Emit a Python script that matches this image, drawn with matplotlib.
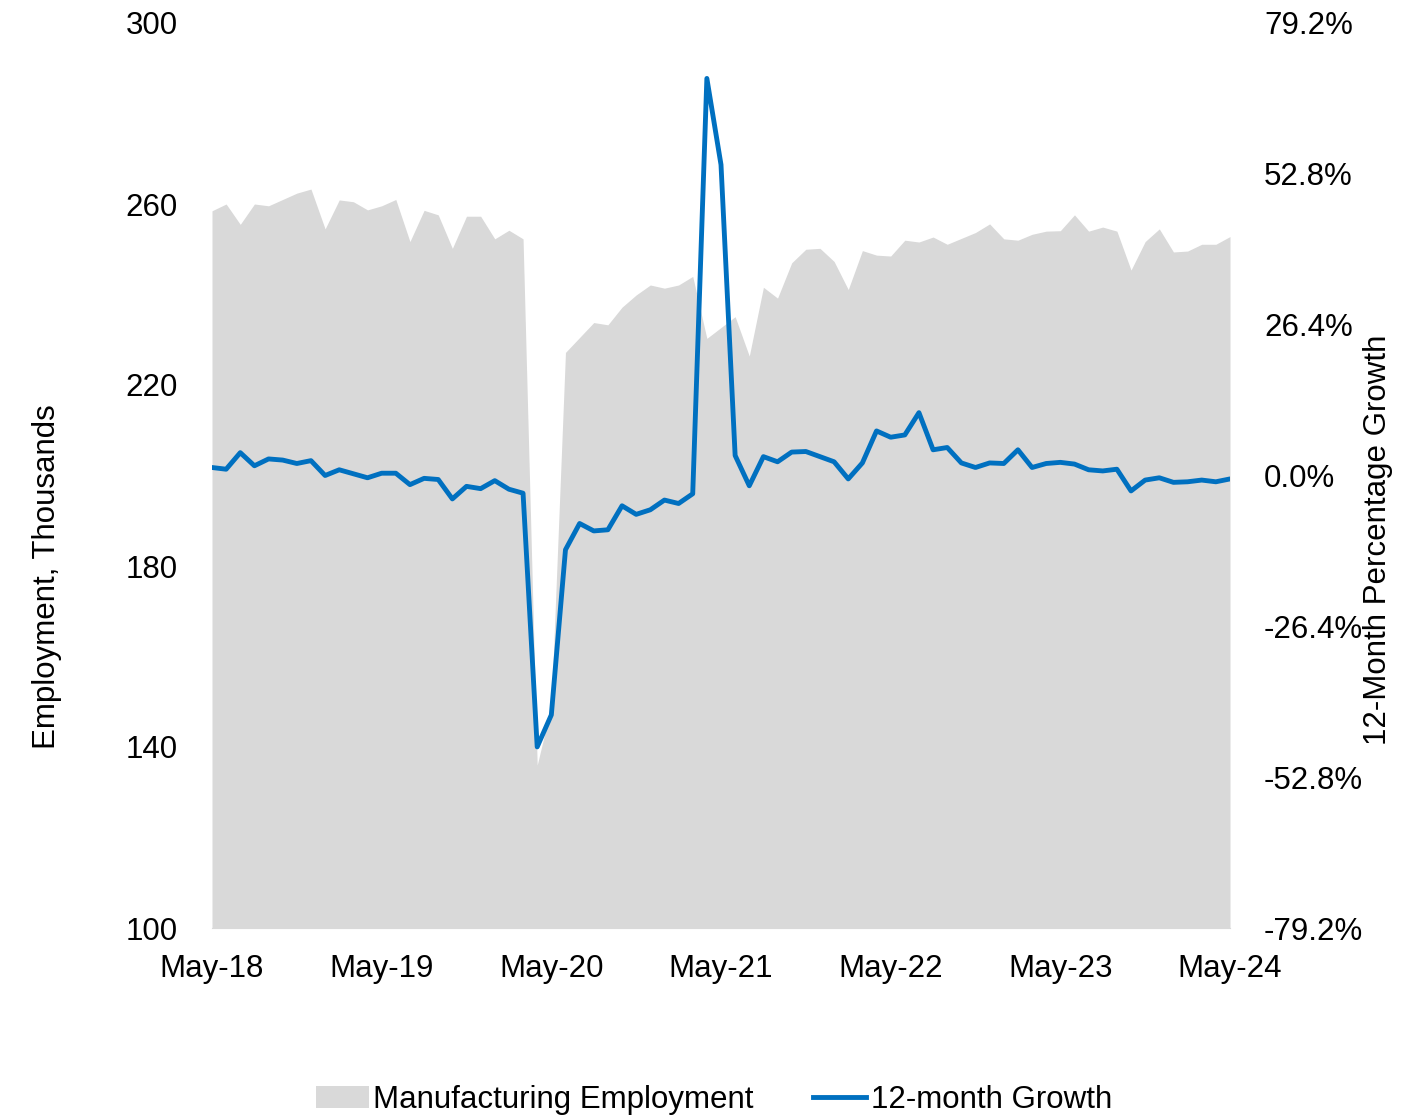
import matplotlib
matplotlib.use("Agg")
import matplotlib.pyplot as plt
import numpy as np
from matplotlib.lines import Line2D
from matplotlib.patches import Patch
from matplotlib.ticker import FuncFormatter

plt.rcParams["font.family"] = ["Liberation Sans", "DejaVu Sans"]
FS = 22.5
FILL = "#d9d9d9"
BLUE = "#0070c0"

# monthly, May-18 .. May-24
employment = [
    258.5, 260.0, 255.5, 260.0, 259.6, 261.0, 262.4, 263.3,
    254.5, 260.9, 260.5, 258.7, 259.6, 261.0, 251.7, 258.6, 257.6, 250.2, 257.3, 257.3,
    252.3, 254.2, 252.3, 136.0, 149.0, 227.2, 230.5, 233.8, 233.3, 237.2, 239.9, 242.1,
    241.4, 242.1, 244.0, 230.3, 232.7, 235.1, 226.4, 241.6, 239.2, 247.0, 250.0, 250.2,
    247.3, 241.1, 249.7, 248.7, 248.5, 252.0, 251.6, 252.7, 251.1, 252.4, 253.7, 255.6,
    252.3, 252.0, 253.3, 254.0, 254.1, 257.6, 254.0, 254.9, 254.0, 245.4, 251.7, 254.5,
    249.4, 249.6, 251.1, 251.1, 252.8,
]
growth_pct = [
    1.4, 1.1, 4.0, 1.7, 2.9, 2.7, 2.1, 2.6,
    0.0, 1.0, 0.3, -0.4, 0.4, 0.4, -1.6, -0.5, -0.7, -4.1, -1.9, -2.3,
    -0.9, -2.4, -3.1, -47.5, -41.9, -13.0, -8.4, -9.7, -9.5, -5.3, -6.8, -6.0,
    -4.3, -4.9, -3.2, 69.5, 54.4, 3.5, -1.8, 3.3, 2.4, 4.1, 4.2, 3.3,
    2.4, -0.6, 2.2, 7.8, 6.7, 7.1, 11.0, 4.5, 4.9, 2.2, 1.4, 2.2,
    2.1, 4.5, 1.4, 2.1, 2.3, 2.0, 1.0, 0.8, 1.1, -2.7, -0.8, -0.4,
    -1.2, -1.1, -0.8, -1.1, -0.6,
]
tick_labels = ["May-18", "May-19", "May-20", "May-21", "May-22", "May-23", "May-24"]
left_ticks = [100, 140, 180, 220, 260, 300]
right_ticks = [-79.2, -52.8, -26.4, 0.0, 26.4, 52.8, 79.2]

months = np.arange(len(employment))

fig = plt.figure(figsize=(14.21, 11.17), dpi=100)
ax = fig.add_axes([212 / 1421, 1 - 928 / 1117, 1018 / 1421, 905 / 1117])
ax2 = ax.twinx()

ax.fill_between(months, employment, left_ticks[0], color=FILL, lw=0)
ax2.plot(months, growth_pct, color=BLUE, lw=3.5, solid_joinstyle="round", solid_capstyle="round")

ax.set_xlim(0, months[-1])
ax.set_xticks(months[::12])
ax.set_xticklabels(tick_labels, fontsize=FS)
ax.set_ylim(left_ticks[0], left_ticks[-1])
ax.set_yticks(left_ticks)
ax.tick_params(axis="y", labelsize=FS, length=0, pad=24.5)
ax.tick_params(axis="x", length=0, pad=18.5)

ax2.set_ylim(right_ticks[0], right_ticks[-1])
ax2.set_yticks(right_ticks)
ax2.yaxis.set_major_formatter(FuncFormatter(lambda v, _: f"{v:.1f}%"))
ax2.tick_params(axis="y", labelsize=FS, length=0, pad=24.5)

for a in (ax, ax2):
    for side in ("top", "left", "right"):
        a.spines[side].set_visible(False)
    a.spines["bottom"].set_color(FILL)
ax2.spines["bottom"].set_visible(False)

fig.text(47 / 1421, 1 - 577 / 1117, "Employment, Thousands", rotation=90,
         ha="center", va="center", fontsize=FS)
fig.text(1378 / 1421, 1 - 540 / 1117, "12-Month Percentage Growth", rotation=90,
         ha="center", va="center", fontsize=FS)

handles = [Patch(facecolor=FILL, edgecolor="none"), Line2D([], [], color=BLUE, lw=3.5)]
fig.legend(handles, ["Manufacturing Employment", "12-month Growth"], loc="center",
           bbox_to_anchor=(714 / 1421, 1 - 1100 / 1117), ncol=2, frameon=False,
           fontsize=FS, handlelength=1.7, handletextpad=0.15, columnspacing=1.9)

fig.savefig("out.png", dpi=100)
